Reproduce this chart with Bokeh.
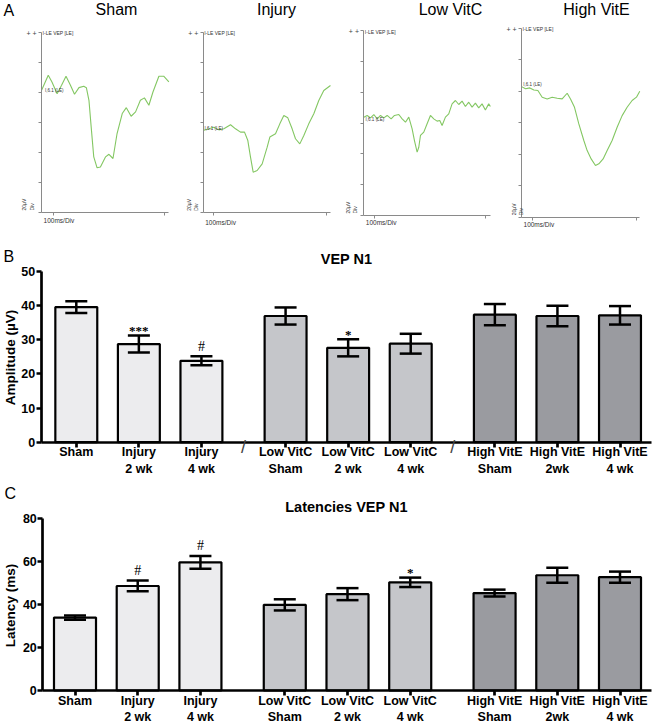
import math
from bokeh.plotting import figure
from bokeh.models import (Label, LabelSet, ColumnDataSource, Whisker, TeeHead,
                          FixedTicker, Range1d, LinearAxis)
from bokeh.layouts import column, row
from bokeh.embed import file_html
from bokeh.resources import INLINE

FONT = "Liberation Sans"
TRACE_GREEN = "#84c763"
AX_GRAY = "#8a8a8a"

# ---------------- Panel A: VEP traces (time in ms, amplitude in uV, 20 uV/div) -------------
trace_titles = ["Sham", "Injury", "Low VitC", "High VitE"]
trace_xticks = [0, 300]
trace_yticks = [0, 20, 40, 60, 80, 100, 120]

sham_t = [-33, -15, -5, 9, 21, 33, 45, 56, 68, 81, 88, 95, 101, 108, 117, 126, 140, 149,
          160, 171, 185, 196, 209, 221, 234, 245, 257, 268, 284, 297, 311]
sham_v = [81.3, 91.2, 86.8, 79.0, 84.6, 90.6, 84.6, 78.6, 83.0, 83.9, 83.0, 74.6, 56.9,
          37.0, 29.7, 30.3, 37.0, 38.7, 35.9, 52.5, 65.8, 69.7, 64.0, 66.9, 74.6, 76.2,
          71.3, 80.1, 90.6, 90.6, 86.8]

injury_t = [-26.5, -11.5, 1.8, 15, 28.2, 45.9, 59.1, 72.3, 82.9, 91.7, 98.8, 105.8, 116.4,
            129.7, 142.9, 150, 165, 176.4, 187, 197.6, 209, 217.9, 229.3, 240, 253, 266.4,
            279.6, 292.8, 310.5]
injury_v = [54.7, 55.8, 56.9, 55.1, 55.8, 58.5, 55.8, 53.6, 53.6, 48.0, 37.0, 27.0, 28.1,
            32.5, 43.6, 50.3, 52.5, 59.1, 64.6, 63.1, 55.8, 49.2, 45.8, 51.4, 59.1, 65.8,
            74.6, 81.3, 84.6]

lowc_t = [-28.8, -19.8, -10.8, -1.8, 7.2, 16.2, 25.2, 34.2, 45, 54, 65.7, 74.7, 83.7, 92.7,
          101.7, 108, 115.2, 119.7, 124.2, 133.2, 142.2, 151.2, 160.2, 169.2, 176.4, 182.7,
          191.7, 200.7, 209.7, 218.7, 227.7, 236.7, 245.7, 254.7, 263.7, 272.7, 281.7,
          290.7, 299.7, 308.7, 313.2]
lowc_v = [63.8, 64.9, 63.3, 65.5, 62.7, 64.9, 63.3, 64.9, 62.7, 64.9, 65.5, 62.7, 60.5, 63.8,
          56.2, 48.6, 41.1, 44.3, 51.9, 54.1, 59.5, 64.9, 62.7, 61.2, 61.6, 58.4, 63.8, 65.9,
          72.4, 74.6, 72.0, 74.2, 70.7, 73.5, 70.3, 72.9, 69.8, 72.4, 68.5, 72.4, 70.7]

highe_t = [-30.7, -19.2, -6.7, 4.8, 16.3, 28.7, 43.1, 57.5, 71.9, 86.2, 100.6, 110.2, 121.7,
           134.1, 148.5, 158.1, 169.6, 182, 191.6, 204, 215.6, 229.9, 244.3, 258.7, 273,
           287.4, 299.9, 309.4]
highe_v = [82.9, 81.5, 82.1, 80.8, 80.4, 76.2, 75.1, 76.2, 75.5, 75.1, 78.7, 75.1, 69.8, 59.2,
           48.7, 42.3, 37.0, 32.8, 33.9, 37.0, 42.3, 48.7, 57.1, 64.5, 69.8, 74.1, 76.2, 80.0]

marker_text = "I,6.1 (LE)"
marker_t = [-24, -23, -24, -26]
marker_v = [81, 56, 62, 84]

# ---------------- Panels B & C: bar charts -------------
bar_labels = ["Sham", "Injury\n2 wk", "Injury\n4 wk", "Low VitC\nSham", "Low VitC\n2 wk",
              "Low VitC\n4 wk", "High VitE\nSham", "High VitE\n2wk", "High VitE\n4 wk"]
bar_group = [0, 0, 0, 1, 1, 1, 2, 2, 2]
group_fill = ["#ececee", "#c5c6ca", "#9a9ba0"]

amp_mean = [39.5, 28.7, 23.8, 36.9, 27.6, 28.8, 37.3, 36.9, 37.1]
amp_sem = [1.7, 2.5, 1.3, 2.5, 2.5, 2.9, 3.1, 3.0, 2.7]
amp_sig = ["", "***", "#", "", "*", "", "", "", ""]
amp_ticks = [0, 10, 20, 30, 40, 50]

lat_mean = [34.0, 48.7, 59.7, 39.9, 44.9, 50.4, 45.4, 53.7, 52.8]
lat_sem = [1.0, 2.5, 3.0, 2.6, 2.8, 2.2, 1.6, 3.5, 2.6]
lat_sig = ["", "#", "#", "", "", "*", "", "", ""]
lat_ticks = [0, 20, 40, 60, 80]

SLOT = 200          # x units per bar slot
GROUP_GAP = 69      # extra x units between groups
pos = [SLOT * i + GROUP_GAP * g for i, g in enumerate(bar_group)]
fills = [group_fill[g] for g in bar_group]


def lin(p1, v1, p2, v2, p):
    """data value at page pixel p, given two anchors (pixel, value)."""
    return v1 + (p - p1) * (v2 - v1) / (p2 - p1)


class Box:
    def __init__(self, ox, oy, w, h):
        self.ox, self.oy, self.w, self.h = ox, oy, w, h


def make_fig(box, xa, ya):
    """xa/ya: ((pix1, val1), (pix2, val2)) anchors in page pixels."""
    (px1, vx1), (px2, vx2) = xa
    (py1, vy1), (py2, vy2) = ya
    xr = Range1d(lin(px1, vx1, px2, vx2, box.ox), lin(px1, vx1, px2, vx2, box.ox + box.w))
    yr = Range1d(lin(py1, vy1, py2, vy2, box.oy + box.h), lin(py1, vy1, py2, vy2, box.oy))
    p = figure(width=box.w, height=box.h, output_backend="svg", toolbar_location=None,
               x_range=xr, y_range=yr, x_axis_location=None, y_axis_location=None,
               min_border=0, min_border_left=0, min_border_right=0, min_border_top=0,
               min_border_bottom=0)
    p.outline_line_color = None
    p.grid.visible = False
    return p


def add_text(p, box, text, X, Y, size, bold=False, align="left", baseline="middle",
             angle=0.0, color="black"):
    p.add_layout(Label(x=X - box.ox, y=box.oy + box.h - Y, x_units="screen", y_units="screen",
                       text=text, text_font=FONT, text_font_size=size,
                       text_font_style="bold" if bold else "normal",
                       text_align=align, text_baseline=baseline, angle=angle,
                       text_color=color))


# geometry of the four trace panels in page pixels
ROW_H = 229
trace_boxes = [Box(0, 0, 185, ROW_H), Box(185, 0, 160, ROW_H), Box(345, 0, 160, ROW_H),
               Box(505, 0, 148, ROW_H)]
trace_x_anchor = [((53.3, 0), (164.3, 300)), ((212.7, 0), (326, 300)),
                  ((374, 0), (485, 300)), ((531.7, 0), (636, 300))]
trace_y_anchor = [((212, 0), (31.5, 120)), ((212.3, 0), (31.7, 120)),
                  ((215, 0), (30, 120)), ((216.7, 0), (27.7, 120))]
trace_bounds = [(-33, 311), (-26.5, 310.5), (-28.8, 313.2), (-30.7, 309.4)]
trace_title_x = [116, 276, 450, 596]
div_label_dx = [-13.5, -10.5, -12, -4]
ms_label_dy = [8, 9.5, 6.7, 7.3]
trace_data = [(sham_t, sham_v), (injury_t, injury_v), (lowc_t, lowc_v), (highe_t, highe_v)]

trace_figs = []
for i in range(4):
    box = trace_boxes[i]
    p = make_fig(box, trace_x_anchor[i], trace_y_anchor[i])
    t, v = trace_data[i]
    b0, b1 = trace_bounds[i]
    p.line(t, v, line_color=TRACE_GREEN, line_width=1.1)
    xax = LinearAxis(fixed_location=0, bounds=(b0, b1),
                     ticker=FixedTicker(ticks=[], minor_ticks=trace_xticks))
    yax = LinearAxis(fixed_location=b0, bounds=(0, 120),
                     ticker=FixedTicker(ticks=[], minor_ticks=trace_yticks))
    for ax in (xax, yax):
        ax.axis_line_color = AX_GRAY
        ax.axis_line_width = 1
        ax.minor_tick_line_color = AX_GRAY
        ax.minor_tick_in = 0
        ax.minor_tick_out = 3
        ax.major_tick_line_color = None
    p.add_layout(xax, "below")
    p.add_layout(yax, "left")
    # page coordinates of the axis corner
    (px1, vx1), (px2, vx2) = trace_x_anchor[i]
    (py1, vy1), (py2, vy2) = trace_y_anchor[i]
    ax_x = lin(vx1, px1, vx2, px2, b0)
    top_y = lin(vy1, py1, vy2, py2, 120)
    bot_y = lin(vy1, py1, vy2, py2, 0)
    add_text(p, box, trace_titles[i], trace_title_x[i], 9, "16px", align="center")
    add_text(p, box, "+ +", ax_x - 15, top_y + 1, "7px", color="#444444")
    add_text(p, box, "I-LE VEP [LE]", ax_x + 1, top_y + 1, "5px", color="#333333")
    add_text(p, box, "20µV\nDiv", ax_x + div_label_dx[i], bot_y - 2, "5px",
             angle=math.pi / 2, color="#333333")
    add_text(p, box, "100ms/Div", ax_x + 2, bot_y + ms_label_dy[i], "6.5px", color="#333333")
    p.add_layout(Label(x=marker_t[i], y=marker_v[i], text=marker_text, text_font=FONT,
                       text_font_size="4.5px", text_color="#333333", text_baseline="middle"))
    if i == 0:
        add_text(p, box, "A", 3, 10, "16px")
    trace_figs.append(p)


def bar_fig(box, x_anchor, y_anchor, yaxis_px, ymax, mean, sem, sig, yticks, title,
            title_xy, ylabel, ylabel_xy, letter, letter_xy, slashes):
    p = make_fig(box, x_anchor, y_anchor)
    (px1, vx1), (px2, vx2) = x_anchor
    x_left = lin(px1, vx1, px2, vx2, yaxis_px)
    x_right = lin(px1, vx1, px2, vx2, 651)
    upper = [m + s for m, s in zip(mean, sem)]
    lower = [m - s for m, s in zip(mean, sem)]
    src = ColumnDataSource(dict(x=pos, top=mean, fill=fills, upper=upper, lower=lower, sig=sig))
    p.vbar(x="x", top="top", bottom=0, width=134, fill_color="fill", line_color="black",
           line_width=2.2, source=src)
    wk = Whisker(source=src, base="x", upper="upper", lower="lower", line_width=2.5,
                 line_color="black", level="overlay",
                 upper_head=TeeHead(size=22, line_width=2.5, line_color="black"),
                 lower_head=TeeHead(size=22, line_width=2.5, line_color="black"))
    p.add_layout(wk)
    for ch, size, bold, off in (("*", "13px", True, 5), ("#", "14px", False, 10)):
        idx = [i for i, s in enumerate(sig) if ch in s]
        s2 = ColumnDataSource(dict(x=[pos[i] for i in idx], y=[upper[i] for i in idx],
                                   t=[sig[i] for i in idx]))
        p.add_layout(LabelSet(x="x", y="y", text="t", source=s2, text_align="center",
                              text_baseline="middle", y_offset=off, text_font=FONT,
                              text_font_size=size, text_color="black",
                              text_font_style="bold" if bold else "normal"))
    xa = LinearAxis(fixed_location=0, bounds=(x_left, x_right), ticker=FixedTicker(ticks=pos))
    xa.major_label_overrides = {k: lab for k, lab in zip(pos, bar_labels)}
    ya = LinearAxis(fixed_location=x_left, bounds=(0, ymax), ticker=FixedTicker(ticks=yticks))
    for ax in (xa, ya):
        ax.axis_line_width = 2.7
        ax.axis_line_color = "black"
        ax.major_tick_line_width = 2.7
        ax.major_tick_line_color = "black"
        ax.major_tick_in = 0
        ax.major_tick_out = 5
        ax.minor_tick_line_color = None
        ax.major_label_text_font = FONT
        ax.major_label_text_font_style = "bold"
        ax.major_label_text_font_size = "12.5px"
        ax.major_label_text_color = "black"
    xa.major_label_standoff = -2
    xa.major_label_text_line_height = 1.2
    ya.major_label_standoff = 1
    p.add_layout(xa, "below")
    p.add_layout(ya, "left")
    add_text(p, box, ylabel, ylabel_xy[0], ylabel_xy[1], "13.5px", bold=True, align="center",
             angle=math.pi / 2)
    add_text(p, box, title, title_xy[0], title_xy[1], "14.5px", bold=True, align="center")
    add_text(p, box, letter, letter_xy[0], letter_xy[1], "16px")
    for sx in slashes:
        p.add_layout(Label(x=sx, y=box.oy + box.h - 446, x_units="data", y_units="screen",
                           text="/", text_font=FONT, text_font_size="18px",
                           text_align="center", text_baseline="middle"))
    return p


slash_x = [(pos[2] + pos[3]) / 2, (pos[5] + pos[6]) / 2]
boxB = Box(0, ROW_H, 653, 480 - ROW_H)
boxC = Box(0, 480, 653, 245)
pB = bar_fig(boxB, ((75.8, pos[0]), (619.5, pos[-1])), ((441.7, 0), (270.7, 50)), 40.7, 50,
             amp_mean, amp_sem, amp_sig, amp_ticks, "VEP N1", (346, 258),
             "Amplitude (µV)", (10, 357), "B", (3, 256), slash_x)
pC = bar_fig(boxC, ((74.5, pos[0]), (619.5, pos[-1])), ((690, 0), (518.3, 80)), 42.3, 80,
             lat_mean, lat_sem, lat_sig, lat_ticks, "Latencies VEP N1", (346, 506),
             "Latency (ms)", (10, 605), "C", (4, 493), [])

layout = column(row(*trace_figs, spacing=0), pB, pC, spacing=0)
open("out.html", "w").write(file_html(layout, INLINE))
